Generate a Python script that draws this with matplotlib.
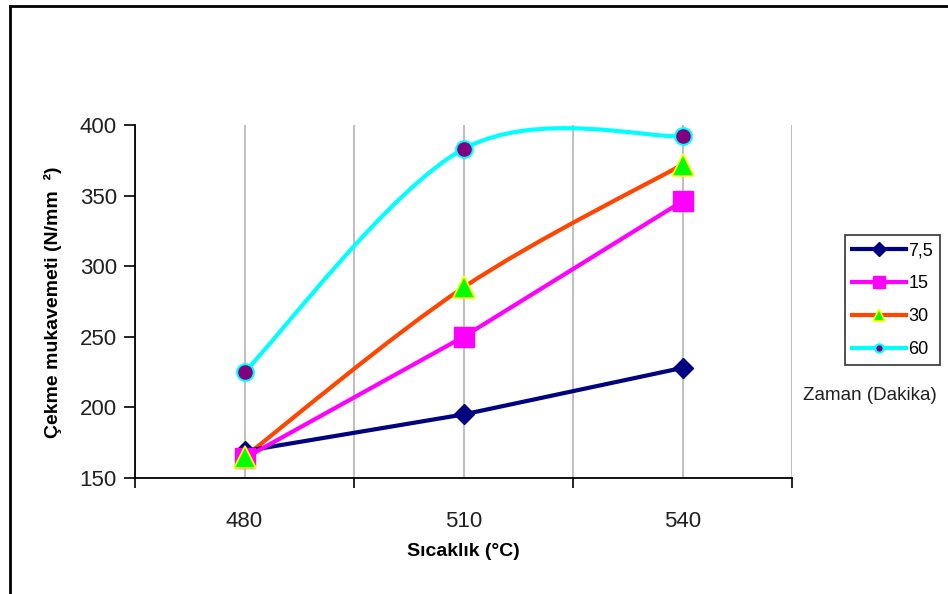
import matplotlib
matplotlib.use("Agg")
import matplotlib.pyplot as plt
from matplotlib.path import Path
from matplotlib.patches import PathPatch
from matplotlib.lines import Line2D
import numpy as np

plt.rcParams['font.family'] = ['Liberation Sans', 'DejaVu Sans']

# ---- data ----
temperatures = [480, 510, 540]
series_labels = ['7,5', '15', '30', '60']
s_7_5 = [169, 195, 228]
s_15 = [164, 250, 346]
s_30 = [165, 285, 372]
s_60 = [225, 383, 392]
x_tick_labels = ['480', '510', '540']
y_ticks = [150, 200, 250, 300, 350, 400]

fig = plt.figure(figsize=(9.48, 5.94), dpi=100)
ax = fig.add_axes([135/948, 1-478/594, (792-135)/948, (478-125)/594])

def smooth_path(xs, ys):
    """Excel-style smoothed line: cubic Bezier with control points at 1/6 of neighbour chords."""
    pts = np.column_stack([xs, ys]).astype(float)
    n = len(pts)
    verts = [pts[0]]
    codes = [Path.MOVETO]
    for i in range(n - 1):
        p_prev = pts[i - 1] if i > 0 else pts[i]
        p0 = pts[i]
        p1 = pts[i + 1]
        p_next = pts[i + 2] if i + 2 < n else pts[i + 1]
        c1 = p0 + (p1 - p_prev) / 6.0
        c2 = p1 - (p_next - p0) / 6.0
        verts += [c1, c2, p1]
        codes += [Path.CURVE4] * 3
    return Path(verts, codes)

lw = 3.0
styles = [
    dict(data=s_7_5, color='#000080', marker='D', ms=10, mfc='#000080', mec='#000080', mew=1, smooth=False,
         lms=7),
    dict(data=s_15, color='#FF00FF', marker='s', ms=15, mfc='#FF00FF', mec='#FF00FF', mew=1, smooth=False,
         lms=8),
    dict(data=s_30, color='#FF4500', marker='^', ms=16, mfc='#00FF00', mec='#FFFF00', mew=1.2, smooth=True,
         lms=9),
    dict(data=s_60, color='#00FFFF', marker='o', ms=12, mfc='#800080', mec='#00FFFF', mew=1.5, smooth=True,
         lms=6),
]

handles = []
for st, lab in zip(styles, series_labels):
    if st['smooth']:
        patch = PathPatch(smooth_path(temperatures, st['data']), facecolor='none',
                          edgecolor=st['color'], lw=lw, zorder=3, capstyle='round', joinstyle='round')
        ax.add_patch(patch)
        ax.plot(temperatures, st['data'], linestyle='none', marker=st['marker'], ms=st['ms'],
                mfc=st['mfc'], mec=st['mec'], mew=st['mew'], zorder=4, clip_on=False)
    else:
        ax.plot(temperatures, st['data'], color=st['color'], lw=lw, marker=st['marker'], ms=st['ms'],
                mfc=st['mfc'], mec=st['mec'], mew=st['mew'], zorder=4, clip_on=False)
    handles.append(Line2D([], [], color=st['color'], lw=lw, marker=st['marker'], ms=st['lms'],
                          mfc=st['mfc'], mec=st['mec'], mew=st['mew']))

# ---- axes ----
ax.set_xlim(465, 555)
ax.set_ylim(150, 400)
ax.set_yticks(y_ticks)
ax.set_yticklabels([str(v) for v in y_ticks])
ax.set_xticks([465, 495, 525, 555])
ax.set_xticklabels([])
ax.set_xticks(temperatures, minor=True)
ax.set_xticklabels(x_tick_labels, minor=True)
ax.tick_params(axis='x', which='major', direction='out', length=7, width=1.2, color='black')
ax.tick_params(axis='x', which='minor', length=0, pad=24, labelsize=16, labelcolor='#202020')
ax.tick_params(axis='y', direction='out', length=8, width=1.2, pad=5, labelsize=16, labelcolor='#202020')
ax.grid(True, axis='x', which='both', color='#c0c0c0', lw=1.5, zorder=0)
ax.set_axisbelow(True)
for sp in ['top', 'right']:
    ax.spines[sp].set_visible(False)
for sp in ['left', 'bottom']:
    ax.spines[sp].set_linewidth(1.3)
    ax.spines[sp].set_color('black')

fig.text(463/948, 1-551/594, 'Sıcaklık (°C)', ha='center', va='center', fontsize=14, fontweight='bold')
fig.text(53/948, 1-302/594, 'Çekme mukavemeti (N/mm  ²)', ha='center', va='center', rotation=90,
         fontsize=14, fontweight='bold')

leg = fig.legend(handles, series_labels, loc='upper left', bbox_to_anchor=(845/948, 1-235/594),
                 bbox_transform=fig.transFigure, frameon=True, fancybox=False, fontsize=13,
                 handlelength=3.0, handletextpad=0.1, labelspacing=0.88, borderpad=0.4,
                 borderaxespad=0)
leg.get_frame().set_edgecolor('black')
leg.get_frame().set_linewidth(1.2)

fig.text(870/948, 1-395/594, 'Zaman (Dakika)', ha='center', va='center', fontsize=13.5, color='#202020')

# chart frame (top and left borders)
fig.add_artist(Line2D([10/948, 1], [1-6/594, 1-6/594], transform=fig.transFigure, color='black', lw=2))
fig.add_artist(Line2D([10/948, 10/948], [0, 1-6/594], transform=fig.transFigure, color='black', lw=2))

fig.savefig('out.png', dpi=100)
